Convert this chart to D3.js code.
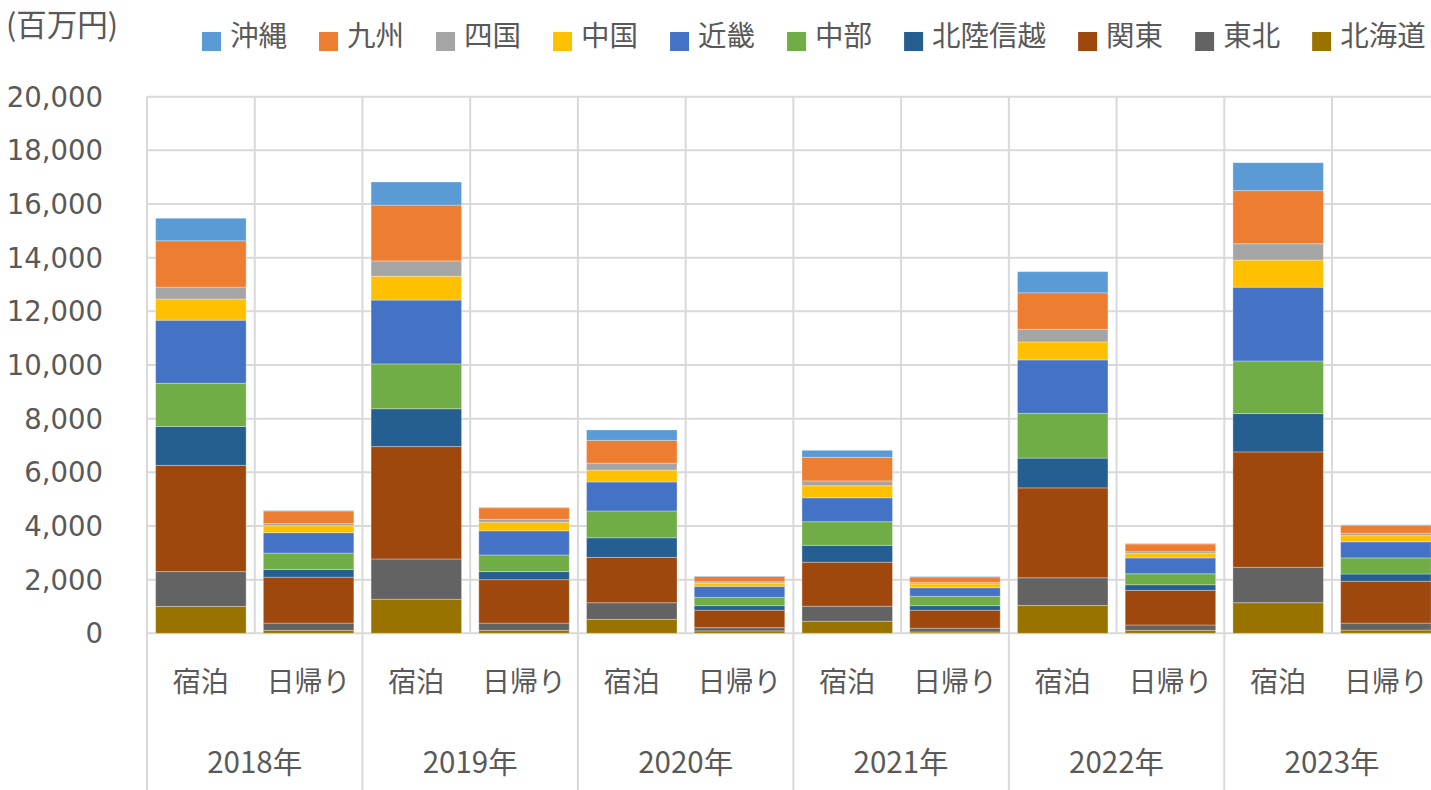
<!DOCTYPE html>
<html>
<head>
<meta charset="utf-8">
<script src="https://cdn.jsdelivr.net/npm/d3@7"></script>
<style>
  body { margin: 0; background: #fff; }
  svg { display: block; }
</style>
</head>
<body>
<svg id="chart" width="1431" height="790"></svg>
<script>
// categories
const years = ['2018年', '2019年', '2020年', '2021年', '2022年', '2023年']
const types = ['宿泊', '日帰り']
// stack order, bottom -> top
const regions = ['北海道', '東北', '関東', '北陸信越', '中部', '近畿', '中国', '四国', '九州', '沖縄']
// legend order (as shown)
const legendOrder = ['沖縄', '九州', '四国', '中国', '近畿', '中部', '北陸信越', '関東', '東北', '北海道']
const yTicks = [0, 2000, 4000, 6000, 8000, 10000, 12000, 14000, 16000, 18000, 20000]

// values (百万円): 2018宿泊, 2018日帰り, 2019宿泊, 2019日帰り, ... 2023日帰り
const hokkaido = [1000, 110, 1270, 110, 520, 90, 450, 50, 1040, 110, 1140, 120]
const tohoku   = [1300, 270, 1500, 270, 620, 120, 560, 140, 1030, 200, 1320, 260]
const kanto    = [3960, 1710, 4190, 1620, 1690, 650, 1640, 670, 3350, 1290, 4300, 1560]
const hokuriku = [1450, 290, 1410, 300, 730, 170, 630, 170, 1110, 210, 1430, 270]
const chubu    = [1610, 610, 1670, 620, 1000, 310, 880, 350, 1670, 410, 1960, 600]
const kinki    = [2350, 760, 2380, 900, 1080, 410, 890, 320, 1990, 590, 2750, 600]
const chugoku  = [790, 260, 890, 320, 440, 120, 450, 140, 670, 160, 1010, 230]
const shikoku  = [440, 80, 570, 110, 260, 50, 180, 50, 470, 70, 610, 90]
const kyushu   = [1730, 470, 2080, 430, 850, 200, 880, 210, 1360, 290, 1980, 300]
const okinawa  = [840, 15, 860, 15, 390, 15, 260, 15, 790, 15, 1040, 15]

const series = {'北海道': hokkaido, '東北': tohoku, '関東': kanto, '北陸信越': hokuriku, '中部': chubu,
                '近畿': kinki, '中国': chugoku, '四国': shikoku, '九州': kyushu, '沖縄': okinawa}
const colors = {'沖縄': '#5B9BD5', '九州': '#ED7D31', '四国': '#A5A5A5', '中国': '#FFC000', '近畿': '#4472C4',
                '中部': '#70AD47', '北陸信越': '#255E91', '関東': '#9E480E', '東北': '#636363', '北海道': '#997300'}

// build the table for d3.stack
let cats = []
years.forEach(y => types.forEach(t => cats.push(y + '|' + t)))
let table = cats.map((c, i) => {
  let row = {cat: c}
  regions.forEach(r => row[r] = series[r][i])
  return row
})

const textColor = '#595959'
const gridColor = '#d9d9d9'
const cjk = '"Noto Sans CJK JP", "Noto Sans", sans-serif'

let svg = d3.select('#chart')

let plotLeft = 147, plotTop = 96.7, plotBottom = 633.3
let step = 107.73
let xScale = d3.scaleBand()
  .domain(cats)
  .range([plotLeft, plotLeft + step * cats.length])
  .paddingInner(0.16)
  .paddingOuter(0.08)
let yScale = d3.scaleLinear()
  .domain([0, 20000])
  .range([plotBottom, plotTop])

// horizontal gridlines
svg.append('g')
  .selectAll('line')
  .data(yTicks)
  .enter()
    .append('line')
    .attr('x1', plotLeft)
    .attr('x2', plotLeft + step * cats.length)
    .attr('y1', d => yScale(d))
    .attr('y2', d => yScale(d))
    .style('stroke', gridColor)
    .style('stroke-width', 2)

// vertical gridlines: inner ones inside plot, group ones reach the bottom
let bounds = d3.range(cats.length + 1)
svg.append('g')
  .selectAll('line')
  .data(bounds)
  .enter()
    .append('line')
    .attr('x1', i => plotLeft + step * i)
    .attr('x2', i => plotLeft + step * i)
    .attr('y1', plotTop)
    .attr('y2', i => i % 2 == 0 ? 790 : plotBottom)
    .style('stroke', gridColor)
    .style('stroke-width', 2)

// stacked bars
let stacked = d3.stack().keys(regions)(table)
svg.append('g')
  .selectAll('g')
  .data(stacked)
  .enter()
    .append('g')
    .style('fill', d => colors[d.key])
    .selectAll('rect')
    .data(d => d)
    .enter()
      .append('rect')
      .attr('x', d => xScale(d.data.cat))
      .attr('y', d => yScale(d[1]))
      .attr('width', xScale.bandwidth())
      .attr('height', d => yScale(d[0]) - yScale(d[1]))
      .style('stroke', '#ffffff')
      .style('stroke-opacity', 0.3)
      .style('stroke-width', 1)

// y axis labels
svg.append('g')
  .selectAll('text')
  .data(yTicks)
  .enter()
    .append('text')
    .attr('x', 103)
    .attr('y', d => yScale(d))
    .attr('dy', '0.36em')
    .attr('text-anchor', 'end')
    .style('font-family', '"DejaVu Sans", Verdana, sans-serif')
    .style('font-size', '27.5px')
    .style('fill', textColor)
    .text(d => d3.format(',')(d))

// category labels
svg.append('g')
  .selectAll('text')
  .data(cats)
  .enter()
    .append('text')
    .attr('x', d => xScale(d) + xScale.bandwidth() / 2)
    .attr('y', 682)
    .attr('dy', '0.36em')
    .attr('text-anchor', 'middle')
    .style('font-family', cjk)
    .style('font-size', '28px')
    .style('fill', textColor)
    .text(d => d.split('|')[1])

svg.append('g')
  .selectAll('text')
  .data(years)
  .enter()
    .append('text')
    .attr('x', (d, i) => plotLeft + step * (2 * i + 1))
    .attr('y', 762)
    .attr('dy', '0.36em')
    .attr('text-anchor', 'middle')
    .style('font-family', cjk)
    .style('font-size', '29.5px')
    .style('fill', textColor)
    .text(d => d)

// unit label
svg.append('text')
  .attr('x', 6)
  .attr('y', 25)
  .attr('dy', '0.36em')
  .style('font-family', cjk)
  .style('font-size', '30.5px')
  .style('fill', textColor)
  .text('(百万円)')

// legend
let lx = 202
let legend = svg.append('g')
legendOrder.forEach(k => {
  legend.append('rect')
    .attr('x', lx)
    .attr('y', 32)
    .attr('width', 19)
    .attr('height', 19)
    .style('fill', colors[k])
  let t = legend.append('text')
    .attr('x', lx + 28)
    .attr('y', 36)
    .attr('dy', '0.36em')
    .style('font-family', cjk)
    .style('font-size', '28.5px')
    .style('fill', textColor)
    .text(k)
  lx += 28 + t.node().getComputedTextLength() + 32
})
</script>
</body>
</html>
